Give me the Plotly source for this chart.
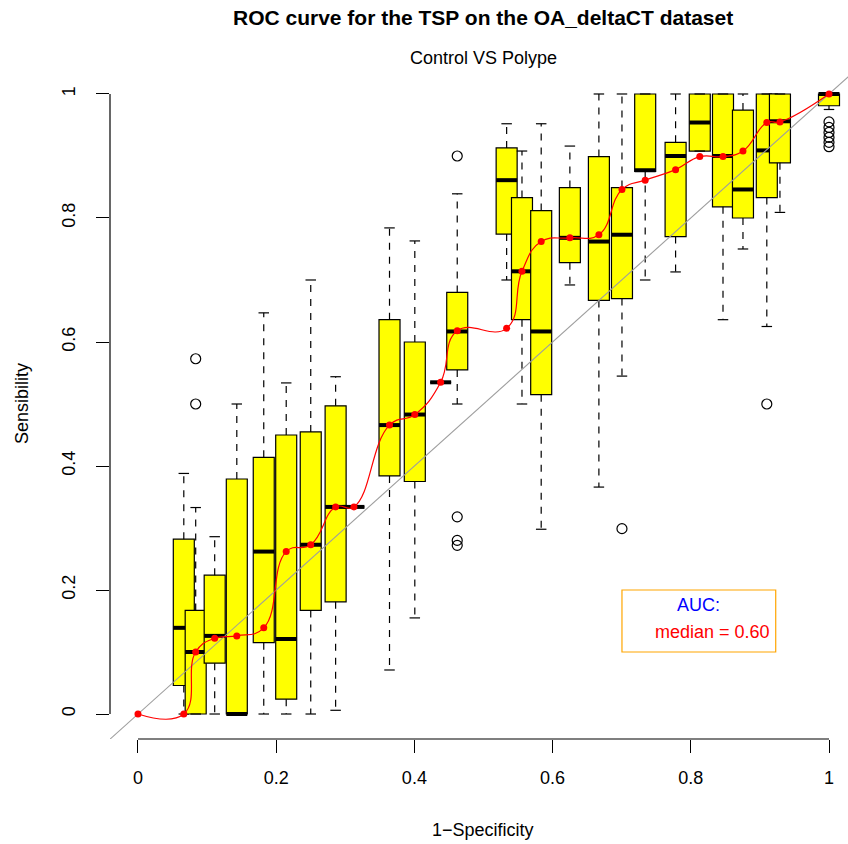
import plotly.graph_objects as go

# ---------------- data ----------------
box_x   = [0.0663, 0.0835, 0.111, 0.143, 0.182, 0.2145, 0.25, 0.286, 0.3125, 0.364, 0.4006, 0.438, 0.462,
           0.5335, 0.5557, 0.5835, 0.625, 0.667, 0.7004, 0.734, 0.778, 0.813, 0.8466, 0.8755, 0.91, 0.929, 1.0]
box_lo  = [0, 0, 0, 0, 0, 0, 0, 0.006, 0.334, 0.071, 0.155, 0.535, 0.5,
           0.70, 0.5, 0.298, 0.692, 0.366, 0.545, 0.70, 0.713, 0.908, 0.636, 0.75, 0.625, 0.809, 0.975]
box_q1  = [0.046, 0, 0.082, 0, 0.115, 0.024, 0.167, 0.181, 0.334, 0.384, 0.375, 0.535, 0.555,
           0.774, 0.636, 0.515, 0.728, 0.667, 0.670, 0.875, 0.770, 0.908, 0.818, 0.80, 0.833, 0.889, 0.981]
box_med = [0.139, 0.100, 0.126, 0, 0.262, 0.121, 0.273, 0.334, 0.334, 0.466, 0.483, 0.535, 0.617,
           0.861, 0.714, 0.617, 0.768, 0.762, 0.773, 0.877, 0.900, 0.954, 0.900, 0.846, 0.909, 0.956, 1.0]
box_q3  = [0.282, 0.167, 0.224, 0.379, 0.414, 0.450, 0.455, 0.497, 0.334, 0.636, 0.600, 0.535, 0.680,
           0.913, 0.833, 0.812, 0.849, 0.899, 0.849, 1.0, 0.922, 1.0, 1.0, 0.974, 1.0, 1.0, 1.0]
box_hi  = [0.388, 0.333, 0.286, 0.5, 0.647, 0.534, 0.70, 0.544, 0.334, 0.784, 0.763, 0.535, 0.839,
           0.952, 0.908, 0.952, 0.916, 1.0, 1.0, 1.0, 1.0, 1.0, 1.0, 1.0, 1.0, 1.0, 1.0]

out_x = [0.0835, 0.0835, 0.462, 0.462, 0.462, 0.462, 0.7004, 0.91,
         1.0, 1.0, 1.0, 1.0, 1.0, 1.0]
out_y = [0.573, 0.5, 0.9, 0.318, 0.280, 0.272, 0.299, 0.5,
         0.955, 0.946, 0.938, 0.930, 0.922, 0.915]

roc_fpr = [0] + box_x
roc_tpr = [0, 0, 0.1, 0.122, 0.126, 0.139, 0.262, 0.273, 0.334, 0.334, 0.466, 0.483, 0.535, 0.618,
           0.622, 0.714, 0.762, 0.768, 0.773, 0.846, 0.861, 0.878, 0.899, 0.899, 0.908, 0.954, 0.955, 1.0]

x_ticks = [0, 0.2, 0.4, 0.6, 0.8, 1]
x_tick_text = ["0", "0.2", "0.4", "0.6", "0.8", "1"]
y_ticks = [0, 0.2, 0.4, 0.6, 0.8, 1]
y_tick_text = ["0", "0.2", "0.4", "0.6", "0.8", "1"]

title = "ROC curve for the TSP on the OA_deltaCT dataset"
subtitle = "Control VS Polype"
x_title = "1\u2212Specificity"
y_title = "Sensibility"
legend_title = "AUC:"
legend_entry = "median = 0.60"

# ---------------- styles ----------------
FONT = "Liberation Sans, Arial, sans-serif"
BOX_W = 0.0304
LW = 1.2
X_RANGE = [-0.0405, 1.0275]
Y_RANGE = [-0.0403, 1.0403]

shapes = []
def seg(x0, y0, x1, y1, width=LW, dash=None, color="black"):
    ln = dict(color=color, width=width)
    if dash:
        ln["dash"] = dash
    shapes.append(dict(type="line", xref="x", yref="y", x0=x0, y0=y0, x1=x1, y1=y1,
                       line=ln, layer="below"))

for x, lo, q1, md, q3, hi in zip(box_x, box_lo, box_q1, box_med, box_q3, box_hi):
    h = BOX_W / 2
    shapes.append(dict(type="rect", xref="x", yref="y", x0=x - h, x1=x + h, y0=q1, y1=q3,
                       fillcolor="#FFFF00", line=dict(color="black", width=LW), layer="below"))
    if hi > q3:
        seg(x, q3, x, hi, dash="7px,7px")
    if lo < q1:
        seg(x, q1, x, lo, dash="7px,7px")
    seg(x - h / 2, hi, x + h / 2, hi)
    seg(x - h / 2, lo, x + h / 2, lo)
    seg(x - h, md, x + h, md, width=4)

# axis lines (R style: only between first and last ticks)
shapes.append(dict(type="line", xref="x", yref="paper", x0=x_ticks[0], x1=x_ticks[-1], y0=0, y1=0,
                   line=dict(color="black", width=LW)))
shapes.append(dict(type="line", xref="paper", yref="y", x0=0, x1=0, y0=y_ticks[0], y1=y_ticks[-1],
                   line=dict(color="black", width=LW)))

# legend box
shapes.append(dict(type="rect", xref="x", yref="y", x0=0.7004, x1=0.9229, y0=0.1, y1=0.2,
                   line=dict(color="#FFA500", width=LW), fillcolor="rgba(0,0,0,0)"))

fig = go.Figure()

fig.add_trace(go.Scatter(x=[X_RANGE[0] - 0.1, X_RANGE[1] + 0.1], y=[X_RANGE[0] - 0.1, X_RANGE[1] + 0.1],
                         mode="lines", line=dict(color="#9E9E9E", width=1.1), hoverinfo="skip"))
fig.add_trace(go.Scatter(x=out_x, y=out_y, mode="markers",
                         marker=dict(symbol="circle-open", size=10, color="black", line=dict(width=1.2))))
fig.add_trace(go.Scatter(x=roc_fpr, y=roc_tpr, mode="lines+markers",
                         line=dict(color="#FF0000", width=1.2, shape="spline", smoothing=1.3),
                         marker=dict(color="#FF0000", size=7)))

annotations = [
    dict(text="<b>" + title + "</b>", xref="paper", yref="paper", x=0.506, y=(739 - 18) / 670,
         xanchor="center", yanchor="middle", showarrow=False, font=dict(size=21, color="black", family=FONT)),
    dict(text=subtitle, xref="paper", yref="paper", x=0.506, y=(739 - 58) / 670,
         xanchor="center", yanchor="middle", showarrow=False, font=dict(size=18, color="black", family=FONT)),
    dict(text=x_title, xref="paper", yref="paper", x=0.506, y=(739 - 830) / 670,
         xanchor="center", yanchor="middle", showarrow=False, font=dict(size=18, color="black", family=FONT)),
    dict(text=y_title, xref="paper", yref="paper", x=(22 - 110) / 738, y=0.5, textangle=-90,
         xanchor="center", yanchor="middle", showarrow=False, font=dict(size=18, color="black", family=FONT)),
    dict(text=legend_title, xref="x", yref="y", x=0.8115, y=0.176,
         xanchor="center", yanchor="middle", showarrow=False, font=dict(size=18, color="#0000FF", family=FONT)),
    dict(text=legend_entry, xref="x", yref="y", x=0.746, y=0.132,
         xanchor="left", yanchor="middle", showarrow=False, font=dict(size=18, color="#FF0000", family=FONT)),
]

fig.update_layout(
    width=848, height=844,
    margin=dict(l=110, r=0, t=69, b=105, pad=0),
    paper_bgcolor="white", plot_bgcolor="white",
    showlegend=False,
    shapes=shapes, annotations=annotations,
    font=dict(family=FONT, size=18, color="black"),
    xaxis=dict(range=X_RANGE, tickvals=x_ticks, ticktext=x_tick_text, ticks="outside", ticklen=13,
               tickwidth=LW, tickcolor="black", showline=False, showgrid=False, zeroline=False,
               tickfont=dict(size=18), ticklabelstandoff=9),
    yaxis=dict(range=Y_RANGE, tickvals=y_ticks, ticktext=y_tick_text, ticks="outside", ticklen=13,
               tickwidth=LW, tickcolor="black", showline=False, showgrid=False, zeroline=False,
               tickangle=-90, tickfont=dict(size=18), ticklabelstandoff=14),
)

fig.write_html("out.html")
